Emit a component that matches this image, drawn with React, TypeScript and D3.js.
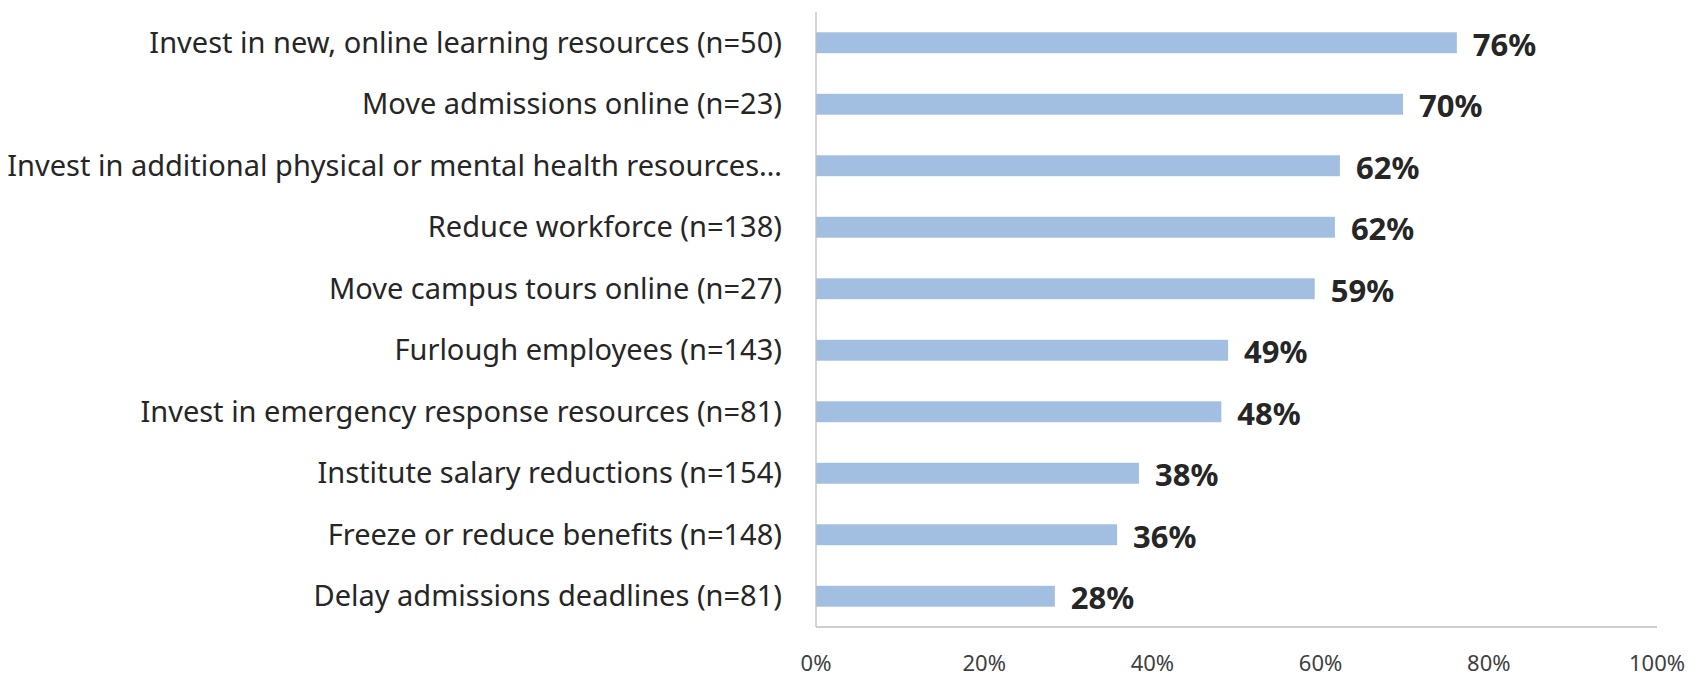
import React from "react";
import * as d3 from "d3";

const categories = [
  "Invest in new, online learning resources (n=50)",
  "Move admissions online (n=23)",
  "Invest in additional physical or mental health resources…",
  "Reduce workforce (n=138)",
  "Move campus tours online (n=27)",
  "Furlough employees (n=143)",
  "Invest in emergency response resources (n=81)",
  "Institute salary reductions (n=154)",
  "Freeze or reduce benefits (n=148)",
  "Delay admissions deadlines (n=81)",
];
const values = [76.2, 69.8, 62.3, 61.7, 59.3, 49.0, 48.2, 38.4, 35.8, 28.4];
const ticks = [0, 20, 40, 60, 80, 100];

const W = 1707;
const H = 679;
const left = 816;
const right = 1657;
const top = 12;
const bottom = 627;

export default function App() {
  const x = d3.scaleLinear().domain([0, 100]).range([left, right]);
  const y = d3.scaleBand<string>().domain(categories).range([top, bottom]).paddingInner(0.66).paddingOuter(0.33);
  const font = "'Noto Sans', 'Open Sans', sans-serif";
  return (
    <svg width={W} height={H} style={{ position: "absolute", left: 0, top: 0, background: "#fff" }}>
      {categories.map((c, i) => {
        const yc = (y(c) as number) + y.bandwidth() / 2;
        return (
          <g key={c}>
            <rect x={x(0)} y={y(c)} width={x(values[i]) - x(0)} height={y.bandwidth()} fill="#a2bfe2" />
            <text x={left - 34} y={yc} dy="0.35em" textAnchor="end" fontFamily={font} fontSize={29} fill="#262626">
              {c}
            </text>
            <text x={x(values[i]) + 16} y={yc} dy="0.42em" fontFamily={font} fontSize={31} fontWeight="bold" fill="#262626">
              {Math.round(values[i])}%
            </text>
          </g>
        );
      })}
      <line x1={left} x2={left} y1={top} y2={bottom} stroke="#bfbfbf" strokeWidth={1.3} />
      <line x1={left} x2={right} y1={bottom} y2={bottom} stroke="#bfbfbf" strokeWidth={1.3} />
      {ticks.map((t) => (
        <text key={t} x={x(t)} y={663} dy="0.35em" textAnchor="middle" fontFamily={font} fontSize={22} fill="#404040">
          {t}%
        </text>
      ))}
    </svg>
  );
}
